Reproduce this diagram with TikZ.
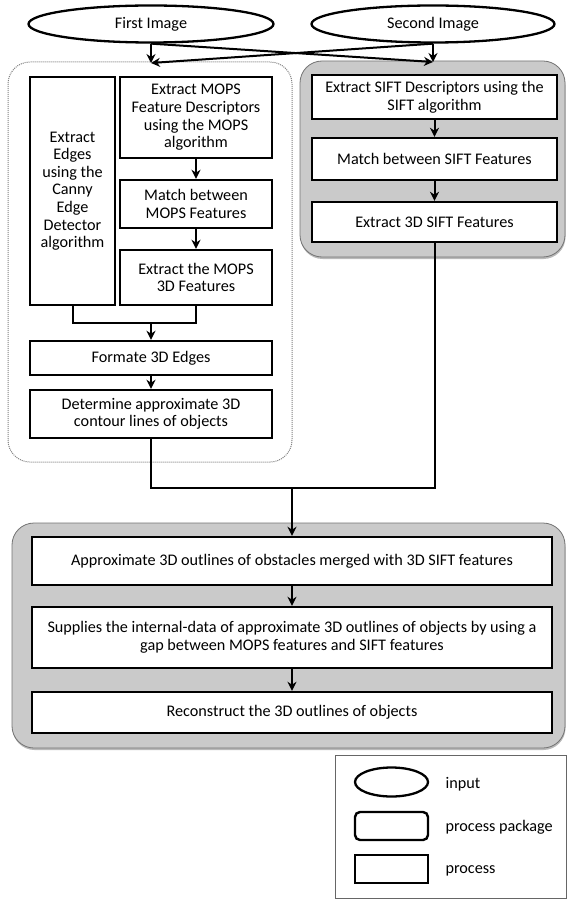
\documentclass[tikz,border=0pt]{standalone}
\usepackage{fontspec}
\setmainfont{Carlito}
\usetikzlibrary{shapes.geometric,arrows.meta,shadows}

\definecolor{pkgfill}{RGB}{202,202,202}

\begin{document}
\begin{tikzpicture}[x=1pt,y=-1pt,
    every node/.style={font=\fontsize{16.2}{17.6}\selectfont, align=center},
    inshape/.style={ellipse, draw, line width=2.3pt, fill=white, inner sep=0pt},
    procbox/.style={rectangle, draw, line width=2.4pt, fill=white, inner sep=1pt},
    flow/.style={line width=2pt, -{Stealth[length=9pt,width=9pt]}},
    wire/.style={line width=2pt},
    pkgshade/.style={fill=pkgfill, draw=black!55, line width=0.8pt, rounded corners=22pt,
        drop shadow={shadow xshift=0.5pt, shadow yshift=-2pt, fill=black!55}},
    pkgdots/.style={fill=white, draw=black!50, line width=1pt, densely dotted, rounded corners=22pt}]
    \useasboundingbox (0,0) rectangle (567,901);

    % process packages
    \draw[pkgdots] (8,62) rectangle (292,462);
    \draw[pkgshade] (300,61) rectangle (565,257);
    \draw[pkgshade] (12,523) rectangle (565,748);

    % inputs
    \node[inshape, minimum width=245, minimum height=37] (first) at (151,24) {First Image};
    \node[inshape, minimum width=243, minimum height=37] (second) at (433,24) {Second Image};
    \coordinate (lin) at (151,63);
    \coordinate (rin) at (433,62);

    % MOPS and edges
    \node[procbox, minimum width=85, minimum height=228] (canny) at (72.5,191)
        {Extract\\Edges\\using the\\Canny\\Edge\\Detector\\algorithm};
    \node[procbox, minimum width=152, minimum height=81] (mopsdesc) at (196,117.5)
        {Extract MOPS\\Feature Descriptors\\using the MOPS\\algorithm};
    \node[procbox, minimum width=152, minimum height=48] (mopsmatch) at (196,204)
        {Match between\\MOPS Features};
    \node[procbox, minimum width=152, minimum height=55] (mops3d) at (196,277.5)
        {Extract the MOPS\\3D Features};
    \node[procbox, minimum width=242, minimum height=34] (formate) at (151,358)
        {Formate 3D Edges};
    \node[procbox, minimum width=242, minimum height=48] (contour) at (151,414)
        {Determine approximate 3D\\contour lines of objects};
    \coordinate (join) at (151,323);

    % SIFT
    \node[procbox, minimum width=245, minimum height=44] (siftdesc) at (434.5,97)
        {Extract SIFT Descriptors using the\\SIFT algorithm};
    \node[procbox, minimum width=245, minimum height=42] (siftmatch) at (434.5,159)
        {Match between SIFT Features};
    \node[procbox, minimum width=245, minimum height=40] (sift3d) at (434.5,222)
        {Extract 3D SIFT Features};

    % merged outlines
    \node[procbox, minimum width=520, minimum height=48] (merged) at (292,561)
        {Approximate 3D outlines of obstacles merged with 3D SIFT features};
    \node[procbox, minimum width=520, minimum height=61] (supplies) at (292,637.5)
        {Supplies the internal-data of approximate 3D outlines of objects by using a\\gap between MOPS features and SIFT features};
    \node[procbox, minimum width=520, minimum height=41] (rebuild) at (292,712.5)
        {Reconstruct the 3D outlines of objects};
    \coordinate (meet) at (292,488);

    % connectors
    \draw[flow] (first.south) -- (lin);
    \draw[flow] (first.south) -- (rin);
    \draw[flow] (second.south) -- (rin);
    \draw[flow] (second.south) -- (lin);
    \draw[flow] (mopsdesc) -- (mopsmatch);
    \draw[flow] (mopsmatch) -- (mops3d);
    \draw[wire] (canny.south) |- (join) -| (mops3d.south);
    \draw[flow] (join) -- (formate.north);
    \draw[flow] (formate) -- (contour);
    \draw[flow] (siftdesc) -- (siftmatch);
    \draw[flow] (siftmatch) -- (sift3d);
    \draw[wire] (contour.south) |- (meet);
    \draw[wire] (sift3d.south) |- (meet);
    \draw[flow] (meet) -- (merged.north);
    \draw[flow] (merged) -- (supplies);
    \draw[flow] (supplies) -- (rebuild);

    % legend
    \draw[line width=0.8pt, draw=black!60] (335,755) rectangle (566,898);
    \node[inshape, minimum width=73, minimum height=29] (keyin) at (391.5,782) {};
    \node[procbox, rounded corners=5pt, minimum width=73, minimum height=28] (keypkg) at (391.5,826) {};
    \node[procbox, minimum width=73, minimum height=28] (keyproc) at (391.5,869) {};
    \node[anchor=west] (keyintext) at (442,784) {input};
    \node[anchor=west] (keypkgtext) at (442,827) {process package};
    \node[anchor=west] (keyproctext) at (442,871) {process};
\end{tikzpicture}
\end{document}
